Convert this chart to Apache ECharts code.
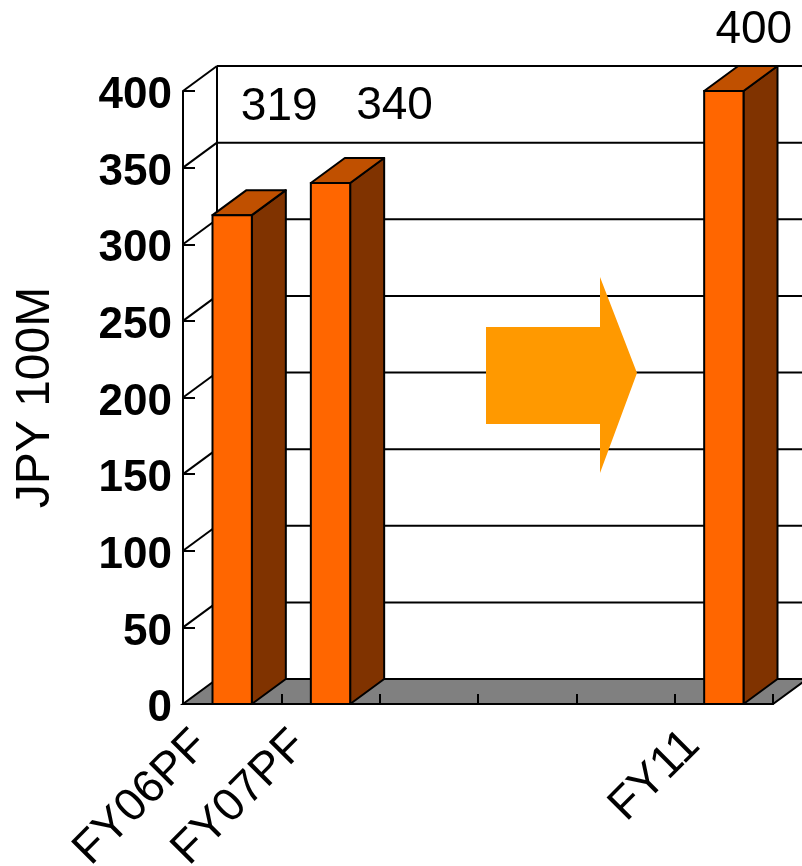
<!DOCTYPE html>
<html>
<head>
<meta charset="utf-8">
<title>JPY 100M</title>
<script src="https://cdn.jsdelivr.net/npm/echarts@6/dist/echarts.min.js"></script>
<style>
  html, body { margin: 0; padding: 0; background: #ffffff; }
  #chart { width: 802px; height: 866px; }
</style>
</head>
<body>
<div id="chart"></div>
<script>
// Fiscal-year categories (middle years carry no label)
var categories = ['FY06PF', 'FY07PF', '', '', '', 'FY11'];
// Values in JPY 100M; null = no bar
var values = [319, 340, null, null, null, 400];
// Value-axis ticks
var yTicks = [0, 50, 100, 150, 200, 250, 300, 350, 400];

// Label placement relative to the top-front centre of each bar (pixels)
var labelShift = { 0: [47, -108], 1: [64, -77], 5: [30, -61] };

// Pseudo-3D depth offset
var DX = 34, DY = -25;

var FRONT = '#FF6600', TOP = '#C05000', SIDE = '#803300', FLOOR = '#808080';
var LINE = '#000000';
var FONT = '"Liberation Sans", Arial, sans-serif';

var barData = [];
values.forEach(function (v, i) { if (v != null) barData.push([i, v]); });

var chart = echarts.init(document.getElementById('chart'), null, { renderer: 'canvas' });

function seg(x1, y1, x2, y2) {
  return { type: 'line', shape: { x1: x1, y1: y1, x2: x2, y2: y2 },
           style: { stroke: LINE, lineWidth: 2 } };
}

// Back wall, side wall, floor and the value-axis tick labels
function renderWalls(params, api) {
  var cs = params.coordSys;
  var v = api.value(0);
  var y = api.coord([0, v])[1];
  var children = [];
  if (v === yTicks[0]) {
    children.push({
      type: 'polygon',
      shape: { points: [[cs.x, y], [cs.x + cs.width, y],
                        [cs.x + cs.width + DX, y + DY], [cs.x + DX, y + DY]] },
      style: { fill: FLOOR, stroke: LINE, lineWidth: 2 }
    });
  } else {
    children.push(seg(cs.x, y, cs.x + DX, y + DY));
    children.push(seg(cs.x + DX, y + DY, cs.x + cs.width + DX, y + DY));
  }
  if (v === yTicks[yTicks.length - 1]) {
    var y0 = api.coord([0, yTicks[0]])[1];
    children.push(seg(cs.x + DX, y + DY, cs.x + DX, y0 + DY));
  }
  children.push({
    type: 'text',
    style: { text: String(v), x: cs.x - 11, y: y + 5, fill: '#000',
             font: 'bold 44px ' + FONT, align: 'right', verticalAlign: 'middle' }
  });
  return { type: 'group', children: children };
}

// 3D bar: front, top and side faces plus value label
function renderBar(params, api) {
  var idx = api.value(0);
  var val = api.value(1);
  var top = api.coord([idx, val]);
  var base = api.coord([idx, 0]);
  var w = api.size([1, 0])[0] * 0.4;
  var x0 = top[0] - w / 2, x1 = top[0] + w / 2;
  var yt = top[1], yb = base[1];
  var shift = labelShift[idx] || [0, -40];
  return {
    type: 'group',
    children: [
      { type: 'polygon',
        shape: { points: [[x1, yb], [x1 + DX, yb + DY], [x1 + DX, yt + DY], [x1, yt]] },
        style: { fill: SIDE, stroke: LINE, lineWidth: 2, lineJoin: 'round' } },
      { type: 'polygon',
        shape: { points: [[x0, yt], [x1, yt], [x1 + DX, yt + DY], [x0 + DX, yt + DY]] },
        style: { fill: TOP, stroke: LINE, lineWidth: 2, lineJoin: 'round' } },
      { type: 'rect',
        shape: { x: x0, y: yt, width: w, height: yb - yt },
        style: { fill: FRONT, stroke: LINE, lineWidth: 2 } },
      { type: 'text',
        style: { text: String(val), x: top[0] + shift[0], y: yt + shift[1],
                 fill: '#000', font: '46px ' + FONT,
                 align: 'center', verticalAlign: 'middle' } }
    ]
  };
}

var option = {
  animation: false,
  backgroundColor: '#ffffff',
  grid: { left: 183, right: 29, top: 91, bottom: 162, containLabel: false, outerBoundsMode: 'none' },
  xAxis: {
    type: 'category',
    data: categories,
    z: 10,
    axisLine: { show: true, lineStyle: { color: LINE, width: 2 } },
    axisTick: { show: true, inside: true, length: 10, lineStyle: { color: LINE, width: 2 } },
    axisLabel: {
      interval: 0, rotate: 45, margin: 3, padding: [0, 44, 0, 0],
      color: '#000', fontSize: 46, fontFamily: FONT
    },
    splitLine: { show: false }
  },
  yAxis: {
    type: 'value',
    min: 0, max: 400, interval: 50,
    z: 10,
    name: 'JPY 100M',
    nameLocation: 'middle',
    nameGap: 123,
    nameTextStyle: { color: '#000', fontSize: 48, fontFamily: FONT },
    axisLine: { show: true, lineStyle: { color: LINE, width: 2 } },
    axisTick: { show: true, inside: true, length: 12, lineStyle: { color: LINE, width: 2 } },
    axisLabel: { show: false },
    splitLine: { show: false }
  },
  graphic: [{
    type: 'polygon',
    z: 5,
    shape: { points: [[486, 327], [600, 327], [600, 277], [637, 373],
                      [600, 473], [600, 424], [486, 424]] },
    style: { fill: '#FF9900' }
  }],
  series: [
    {
      type: 'custom',
      name: 'walls',
      z: 1,
      silent: true,
      renderItem: renderWalls,
      data: yTicks.map(function (t) { return [t]; }),
      encode: { y: 0 }
    },
    {
      type: 'custom',
      name: 'JPY 100M',
      z: 3,
      renderItem: renderBar,
      data: barData,
      encode: { x: 0, y: 1 }
    }
  ]
};

chart.setOption(option);
</script>
</body>
</html>
